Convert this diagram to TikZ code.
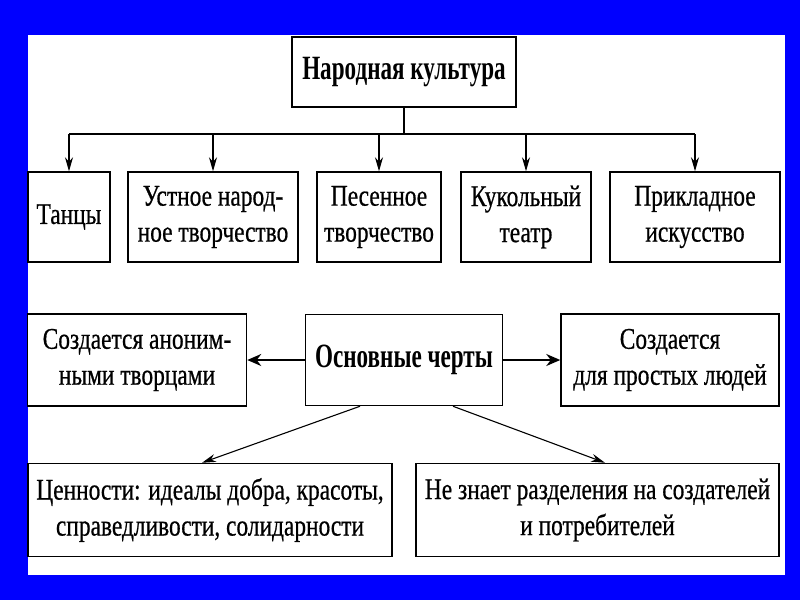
\documentclass[tikz,border=0pt]{standalone}
\usepackage{fontspec}
\setmainfont[FakeStretch=0.78,FakeBold=0.6]{Liberation Serif}
\newfontfamily\titlefont[FakeStretch=0.68]{Liberation Serif Bold}
\usetikzlibrary{arrows.meta,calc}
\definecolor{bgblue}{RGB}{0,0,255}
\begin{document}
\begin{tikzpicture}[x=1pt,y=-1pt,
  box/.style={draw=black, line width=1.5pt, fill=white, rectangle, inner sep=0pt,
    align=center, font=\fontsize{30}{36}\selectfont},
  bbox/.style={box, font=\fontsize{34}{36}\titlefont},
  conn/.style={line width=1.1pt, -{Stealth[length=14pt,width=8pt]}},
  sideconn/.style={line width=2pt, -{Stealth[length=14pt,width=12pt]}}
]
\useasboundingbox (0,0) rectangle (800,600);
\fill[bgblue] (0,0) rectangle (800,600);
\fill[white] (28,35) rectangle (785,575);

\node[bbox, minimum width=224pt, minimum height=70pt] (top) at (404,72) {Народная культура};

\node[box, minimum width=82pt, minimum height=90pt] (tan) at (69,217) {Танцы};
\node[box, minimum width=170pt, minimum height=90pt] (ustn) at (213,217) {Устное народ-\\ное творчество};
\node[box, minimum width=124pt, minimum height=90pt] (pes) at (379,217) {Песенное\\творчество};
\node[box, minimum width=130pt, minimum height=90pt] (kuk) at (526,217) {Кукольный\\театр};
\node[box, minimum width=170pt, minimum height=90pt] (prik) at (695,217) {Прикладное\\искусство};

\coordinate (hl) at (0,134);
\draw[line width=2pt] (tan.north |- hl) -- (prik.north |- hl);
\draw[line width=1.1pt] (top.south) -- (top.south |- hl);
\foreach \n in {tan,ustn,pes,kuk,prik}{
  \draw[conn] (\n.north |- hl) -- (\n.north);
}

\node[box, minimum width=219pt, minimum height=92pt] (anon) at (137,360) {Создается аноним-\\ными творцами};
\node[bbox, minimum width=197pt, minimum height=91pt] (osn) at (404,360) {Основные черты};
\node[box, minimum width=218pt, minimum height=92pt] (prost) at (670,360) {Создается\\для простых людей};

\draw[sideconn] (osn.west) -- (anon.east);
\draw[sideconn] (osn.east) -- (prost.west);

\node[box, minimum width=364pt, minimum height=93pt] (cenn) at (210,510) {Ценности: идеалы добра, красоты,\\справедливости, солидарности};
\node[box, minimum width=363pt, minimum height=93pt] (ne) at (597.5,510) {Не знает разделения на создателей\\и потребителей};

\draw[conn] ([xshift=-44pt]osn.south) -- ([xshift=-8pt]cenn.north);
\draw[conn] ([xshift=49pt]osn.south) -- ([xshift=7.5pt]ne.north);
\end{tikzpicture}
\end{document}
